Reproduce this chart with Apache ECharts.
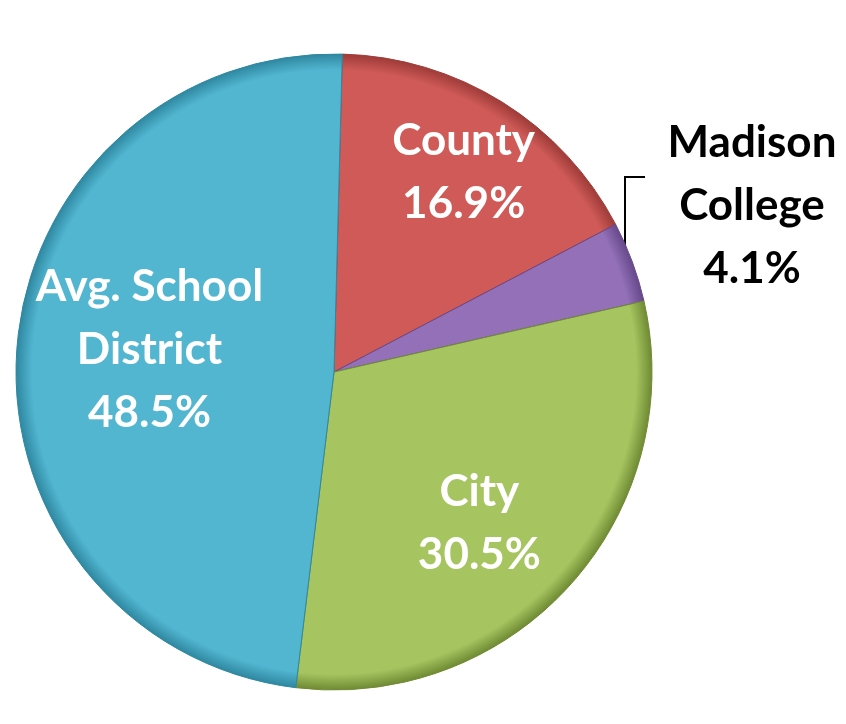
<!DOCTYPE html>
<html>
<head>
<meta charset="utf-8">
<script src="https://cdn.jsdelivr.net/npm/echarts@6/dist/echarts.min.js"></script>
<style>
html,body{margin:0;padding:0;background:#fff;}
#chart{width:846px;height:724px;}
</style>
</head>
<body>
<div id="chart"></div>
<script>
const categories = ["County", "Madison\nCollege", "City", "Avg. School\nDistrict"];
const values = [16.9, 4.1, 30.5, 48.5];
const colors = ["#CF5A57", "#9370B8", "#A6C560", "#52B6D1"];
const edgeColors = ["#9E3B38", "#66488A", "#6F8A33", "#2F87A0"];
const labelOffsets = [[44, -62], null, [25, 43], [-23, -10]];

const CX = 334, CY = 372, R = 318;

const chart = echarts.init(document.getElementById('chart'));
const data = categories.map((name, i) => {
  const item = {
    name: name,
    value: values[i],
    itemStyle: {
      color: {
        type: 'radial', x: CX, y: CY, r: R, global: true,
        colorStops: [
          {offset: 0, color: colors[i]},
          {offset: 0.95, color: colors[i]},
          {offset: 1, color: edgeColors[i]}
        ]
      },
      borderColor: edgeColors[i],
      borderWidth: 1
    }
  };
  if (labelOffsets[i]) {
    item.label = {position: 'inside', color: '#fff', offset: labelOffsets[i]};
    item.labelLine = {show: false};
  } else {
    item.label = {position: 'outside', color: '#000', overflow: 'none', width: 200};
    item.labelLine = {show: true, lineStyle: {color: '#000', width: 2}};
  }
  return item;
});

chart.setOption({
  animation: false,
  series: [{
    type: 'pie',
    center: [CX, CY],
    radius: R,
    startAngle: 88.5,
    clockwise: true,
    data: data,
    label: {
      formatter: '{b}\n{c}%',
      fontFamily: 'Lato',
      fontWeight: 'bold',
      fontSize: 44,
      lineHeight: 63,
      align: 'center'
    },
    labelLayout: function (p) {
      if (p.dataIndex !== 1) return {};
      return {
        x: 752, y: 206, align: 'center', verticalAlign: 'middle',
        labelLinePoints: [[625, 263], [625, 177], [645, 177]]
      };
    }
  }]
});
</script>
</body>
</html>
